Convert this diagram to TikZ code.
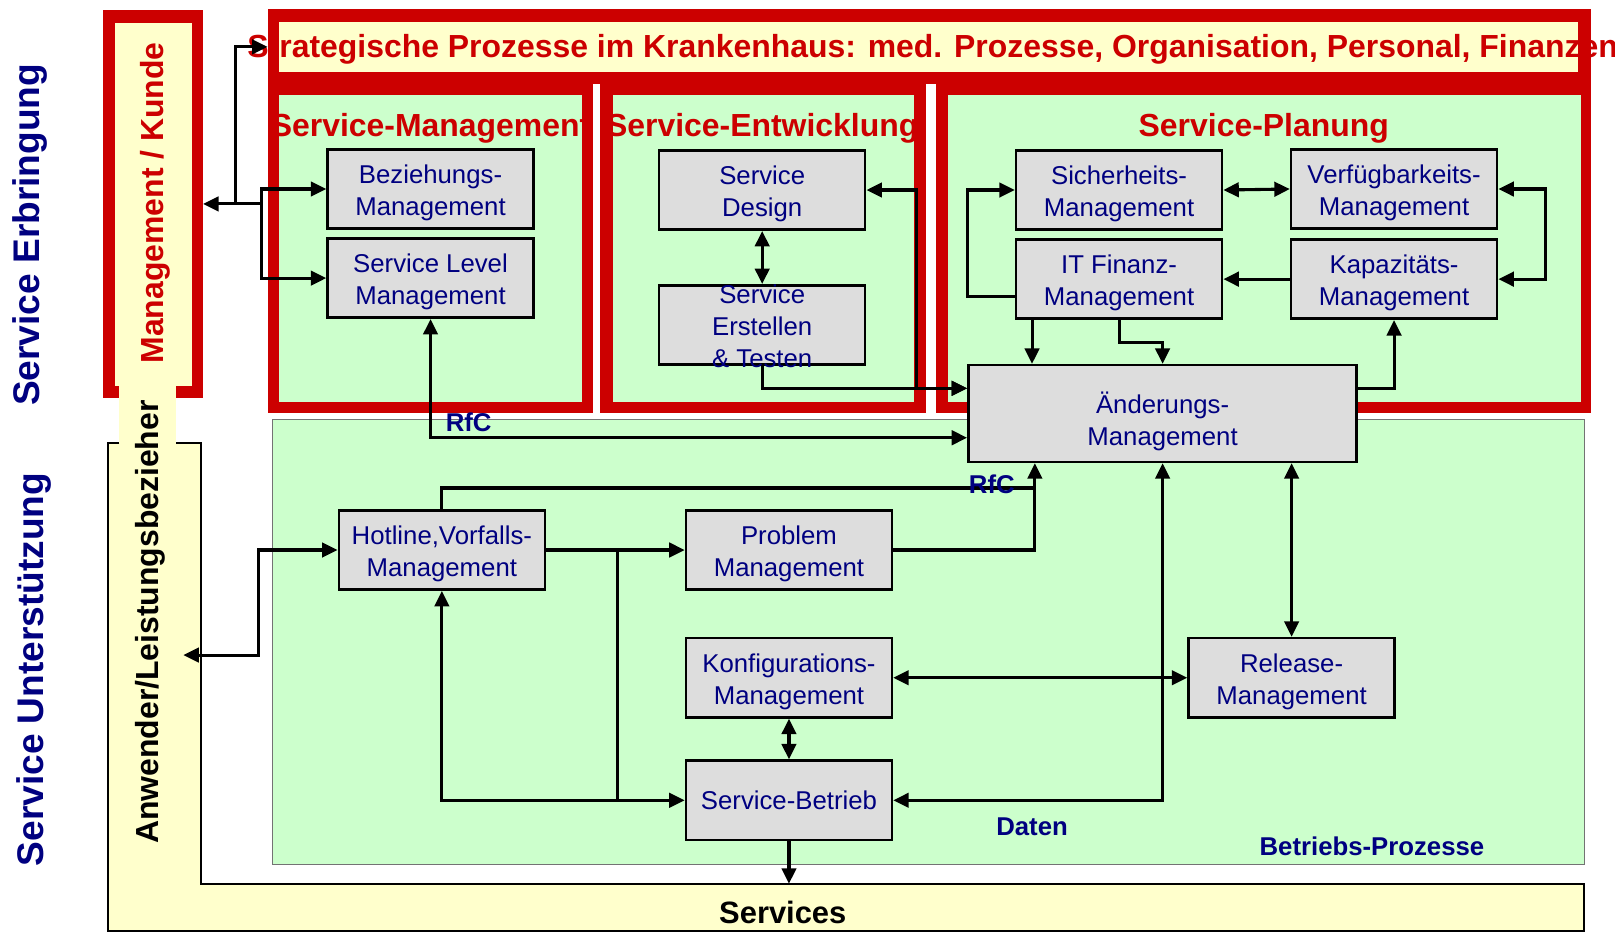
\documentclass[tikz,border=0pt]{standalone}
\usepackage{fontspec}
\setmainfont{Liberation Sans}
\usetikzlibrary{arrows.meta}
\definecolor{cred}{HTML}{CC0000}
\definecolor{cyellow}{HTML}{FFFFCC}
\definecolor{cgreen}{HTML}{CCFFCC}
\definecolor{cgray}{HTML}{DDDDDD}
\definecolor{cnavy}{HTML}{000080}
\newcommand{\pbx}[4]{%
  \node[pbox] (#1) at (#2) {};
  \node[btext] (#1t) at ([yshift=#3]#1.center) {#4};}
\begin{document}
\begin{tikzpicture}[x=1pt,y=-1pt,
  pbox/.style={draw=black, line width=2.5pt, fill=cgray, minimum width=200pt, minimum height=77pt, inner sep=0pt, align=center, text=cnavy, font=\fontsize{25}{31}\selectfont},
  btext/.style={align=center, text=cnavy, font=\fontsize{25}{31}\selectfont, inner sep=0pt},
  heading/.style={text=cred, font=\fontsize{31}{37}\selectfont\bfseries, inner sep=0pt},
  side/.style={rotate=90, font=\fontsize{36}{40}\selectfont\bfseries, text=cnavy, inner sep=0pt},
  lbl/.style={font=\fontsize{25}{30}\selectfont\bfseries, text=cnavy, inner sep=0pt},
  conn/.style={line width=3pt, draw=black},
  >={Triangle[length=15pt,width=14pt]},
]
\useasboundingbox (0,0) rectangle (1568,905);

% strategic band and panels
\node[fill=cred, minimum width=1285pt, minimum height=73pt, inner sep=0pt] (strat) at (902.5,45.5) {};
\fill[cyellow] (271,21) rectangle (1532,70);
\fill[cred] (260,81) rectangle (576,401);
\fill[cgreen] (271,92) rectangle (565,390);
\fill[cred] (583,81) rectangle (899,401);
\fill[cgreen] (595,92) rectangle (887,390);
\fill[cred] (909,81) rectangle (1545,401);
\fill[cgreen] (920,92) rectangle (1535,390);

% Management / Kunde
\node[fill=cred, minimum width=97pt, minimum height=376pt, inner sep=0pt] (mk) at (148.5,198) {};
\fill[cyellow] (112,22) rectangle (186,375);

% Betriebs-Prozesse region
\draw[fill=cgreen, draw=black!55, line width=1pt] (265,407) rectangle (1538,839);

% Anwender L-shape
\fill[cyellow] (105,430) -- (195,430) -- (195,858) -- (1538,858) -- (1538,904) -- (105,904) -- cycle;
\fill[cyellow] (116,374) rectangle (171,432);
\draw[black, line width=2pt] (116,430) -- (105,430) -- (105,904) -- (1538,904) -- (1538,858) -- (195,858) -- (195,430) -- (171,430);

% texts
\node[heading, anchor=base west] (stitle) at (240,56) {Strategische Prozesse im Krankenhaus: med. Prozesse, Organisation, Personal, Finanzen};
\node[heading, anchor=base] (hsm) at (418,133) {Service-Management};
\node[heading, anchor=base] (hse) at (740,133) {Service-Entwicklung};
\node[heading, anchor=base] (hsp) at (1227,133) {Service-Planung};

\node[side] (se) at (29,228) {Service Erbringung};
\node[side] (su) at (33,650) {Service Unterstützung};
\node[side, text=cred, font=\fontsize{31}{36}\selectfont\bfseries] (mkt) at (151,197) {Management / Kunde};
\node[side, text=black, font=\fontsize{31}{36}\selectfont\bfseries] (anwt) at (145.5,604) {Anwender/Leistungsbezieher};

% boxes
\pbx{bez}{418,183.5}{-4pt}{Beziehungs-\\Management}
\pbx{slm}{418,270}{-4pt}{Service Level\\Management}
\pbx{sdes}{740,184.5}{-4pt}{Service\\Design}
\pbx{serst}{740,315.5}{-1pt}{Service\\Erstellen\\\& Testen}
\pbx{sich}{1086.5,184.5}{-4pt}{Sicherheits-\\Management}
\pbx{verf}{1353.5,183.5}{-4pt}{Verfügbarkeits-\\Management}
\pbx{itfin}{1086.5,271}{-4pt}{IT Finanz-\\Management}
\pbx{kap}{1353.5,271}{-4pt}{Kapazitäts-\\Management}
\node[pbox, minimum width=377pt, minimum height=94pt] (aend) at (1128.75,401.5) {};
\node[btext] (aendt) at ([yshift=-8pt]aend.center) {Änderungs-\\Management};
\pbx{hot}{429,534}{-4pt}{Hotline,Vorfalls-\\Management}
\pbx{prob}{766,534}{-4pt}{Problem\\Management}
\pbx{konf}{766,658}{-4pt}{Konfigurations-\\Management}
\pbx{rel}{1254,658}{-4pt}{Release-\\Management}
\pbx{sbet}{766,777}{0pt}{Service-Betrieb}

% coordinates
\coordinate (j1) at (229,198);
\coordinate (j2) at (254,198);
\coordinate (anw) at (178,636);
\coordinate (bandtop) at (766,858);
\coordinate (aendA) at ([yshift=24.5pt]aend.west);
\coordinate (aendB) at ([yshift=24.5pt]aend.east);
\coordinate (f1) at ([xshift=-84.5pt]itfin.south);
\coordinate (r1) at ([xshift=-124pt]aend.south);
\coordinate (h1) at ([xshift=69.5pt]hot.east);

% connectors
\draw[conn,<-] (mk.east) -- (j2);
\draw[conn,->] (j1) |- (strat.west);
\draw[conn,->] (j2) |- (bez.west);
\draw[conn,->] (j2) |- (slm.west);
\draw[conn,<->] (slm.south) |- ([yshift=-23.5pt]aend.west);
\draw[conn,<->] (sdes.south) -- (serst.north);
\draw[conn,<->] (sdes.east) -- ++(49,0) |- (aendA);
\draw[conn,->] (serst.south) |- (aendA);
\draw[conn,<->] (sich.east) -- (verf.west);
\draw[conn,<->] (verf.east) -- ++(46,0) |- (kap.east);
\draw[conn,->] (kap.west) -- (itfin.east);
\draw[conn,->] ([yshift=-17pt]itfin.west) -- ++(-46,0) |- (sich.west);
\draw[conn,->] (f1) -- (f1 |- aend.north);
\draw[conn,->] (itfin.south) -- ++(0,22) -| (aend.north);
\draw[conn,->] (aendB) -| (kap.south);
\draw[conn,->] (prob.east) -| (r1);
\draw[conn] (hot.north) |- ([yshift=-24pt]r1);
\draw[conn,->] (hot.east) -- (prob.west);
\draw[conn] (h1) -- (h1 |- sbet.west);
\draw[conn,<->] (hot.south) |- (sbet.west);
\draw[conn,<->] (hot.west) -- ++(-77,0) |- (anw);
\draw[conn,<->] (konf.south) -- (sbet.north);
\draw[conn,<->] (konf.east) -- (rel.west);
\draw[conn,<->] (rel.north |- aend.south) -- (rel.north);
\draw[conn,<->] (aend.south) |- (sbet.east);
\draw[conn,->] (sbet.south) -- (sbet.south |- bandtop);

% labels
\node[lbl] (rfc1) at (455,410) {RfC};
\node[lbl] (rfc2) at (963,470) {RfC};
\node[lbl] (daten) at (1002,803) {Daten};
\node[lbl] (betr) at (1332,822) {Betriebs-Prozesse};
\node[font=\fontsize{30}{36}\selectfont\bfseries, inner sep=0pt] (serv) at (760,886) {Services};
\end{tikzpicture}
\end{document}
